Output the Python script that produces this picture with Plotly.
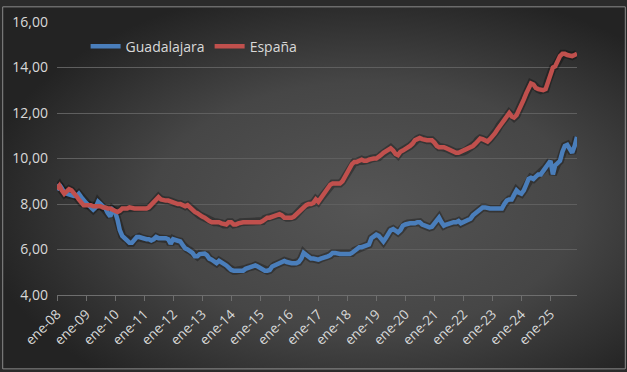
import base64
import pandas as pd
import plotly.graph_objects as go

# ---------------- data (monthly, ene-2008 .. dic-2025) ----------------
start_month = "2008-01-01"

guadalajara = [
    8.60, 8.85, 8.70, 8.50, 8.45, 8.40, 8.40, 8.35, 8.35, 8.45, 8.30, 8.15,   # 2008
    8.05, 7.95, 7.85, 7.75, 7.85, 8.10, 8.00, 7.90, 7.80, 7.60, 7.45, 7.75,   # 2009
    7.65, 7.30, 6.85, 6.60, 6.50, 6.45, 6.30, 6.30, 6.45, 6.55, 6.55, 6.50,   # 2010
    6.45, 6.45, 6.45, 6.40, 6.45, 6.55, 6.50, 6.50, 6.50, 6.50, 6.45, 6.25,   # 2011
    6.45, 6.40, 6.40, 6.35, 6.20, 6.05, 6.00, 5.95, 5.85, 5.70, 5.70, 5.80,   # 2012
    5.80, 5.82, 5.75, 5.60, 5.55, 5.45, 5.40, 5.50, 5.45, 5.40, 5.30, 5.20,   # 2013
    5.10, 5.07, 5.07, 5.07, 5.07, 5.07, 5.15, 5.20, 5.20, 5.25, 5.30, 5.25,   # 2014
    5.20, 5.10, 5.07, 5.07, 5.10, 5.25, 5.30, 5.35, 5.45, 5.45, 5.50, 5.45,   # 2015
    5.40, 5.40, 5.40, 5.40, 5.45, 5.60, 5.85, 5.75, 5.65, 5.60, 5.60, 5.55,   # 2016
    5.55, 5.60, 5.62, 5.65, 5.70, 5.75, 5.85, 5.85, 5.80, 5.80, 5.80, 5.80,   # 2017
    5.80, 5.80, 5.85, 5.95, 6.00, 6.10, 6.10, 6.15, 6.20, 6.22, 6.50, 6.60,   # 2018
    6.65, 6.60, 6.45, 6.35, 6.50, 6.70, 6.85, 6.90, 6.80, 6.75, 6.85, 7.05,   # 2019
    7.10, 7.15, 7.15, 7.15, 7.15, 7.20, 7.20, 7.10, 7.05, 7.00, 6.97, 7.00,   # 2020
    7.15, 7.30, 7.40, 7.20, 7.05, 7.10, 7.15, 7.15, 7.20, 7.20, 7.25, 7.15,   # 2021
    7.20, 7.25, 7.25, 7.35, 7.50, 7.60, 7.70, 7.80, 7.85, 7.85, 7.80, 7.80,   # 2022
    7.80, 7.80, 7.80, 7.80, 7.80, 8.00, 8.15, 8.20, 8.20, 8.40, 8.60, 8.50,   # 2023
    8.45, 8.60, 8.85, 9.10, 9.15, 9.10, 9.20, 9.30, 9.30, 9.50, 9.60, 9.75,   # 2024
    9.90, 9.30, 9.70, 9.80, 9.90, 10.30, 10.55, 10.60, 10.40, 10.25, 10.55, 10.95,  # 2025
]

espana = [
    8.65, 8.80, 8.60, 8.45, 8.55, 8.65, 8.60, 8.50, 8.35, 8.20, 8.05, 7.95,   # 2008
    7.95, 7.95, 7.95, 7.90, 7.90, 7.90, 7.90, 7.85, 7.85, 7.80, 7.80, 7.75,   # 2009
    7.70, 7.65, 7.70, 7.80, 7.80, 7.80, 7.85, 7.80, 7.80, 7.80, 7.80, 7.80,   # 2010
    7.80, 7.80, 7.85, 7.95, 8.10, 8.20, 8.30, 8.20, 8.15, 8.15, 8.15, 8.10,   # 2011
    8.05, 8.00, 8.00, 8.00, 7.95, 7.90, 7.95, 7.85, 7.70, 7.65, 7.60, 7.50,   # 2012
    7.45, 7.40, 7.30, 7.25, 7.20, 7.20, 7.20, 7.20, 7.15, 7.10, 7.10, 7.20,   # 2013
    7.20, 7.10, 7.10, 7.15, 7.20, 7.20, 7.20, 7.20, 7.20, 7.20, 7.20, 7.20,   # 2014
    7.20, 7.25, 7.35, 7.40, 7.40, 7.45, 7.50, 7.50, 7.55, 7.50, 7.40, 7.40,   # 2015
    7.40, 7.40, 7.45, 7.55, 7.70, 7.80, 7.90, 7.95, 8.00, 8.00, 8.05, 8.20,   # 2016
    8.10, 8.25, 8.40, 8.55, 8.70, 8.85, 8.90, 8.90, 8.90, 8.90, 9.00, 9.20,   # 2017
    9.40, 9.60, 9.75, 9.85, 9.85, 9.90, 9.95, 9.90, 9.90, 9.95, 10.00, 10.00, # 2018
    10.00, 10.05, 10.15, 10.25, 10.30, 10.40, 10.45, 10.35, 10.20, 10.15, 10.30, 10.35,  # 2019
    10.40, 10.50, 10.55, 10.65, 10.80, 10.85, 10.90, 10.85, 10.80, 10.80, 10.80, 10.80,  # 2020
    10.70, 10.55, 10.50, 10.50, 10.50, 10.45, 10.40, 10.30, 10.30, 10.25, 10.25, 10.30,  # 2021
    10.30, 10.35, 10.40, 10.50, 10.55, 10.65, 10.80, 10.88, 10.85, 10.80, 10.75, 10.85,  # 2022
    10.95, 11.10, 11.25, 11.45, 11.55, 11.70, 11.85, 12.00, 11.85, 11.80, 11.90, 12.10,  # 2023
    12.35, 12.60, 12.85, 13.10, 13.30, 13.25, 13.10, 13.05, 13.00, 13.00, 13.05, 13.40,  # 2024
    13.80, 14.00, 14.05, 14.30, 14.50, 14.60, 14.60, 14.55, 14.50, 14.50, 14.55, 14.60,  # 2025
]

tick_dates = [f"{y}-01-01" for y in range(2008, 2026)]
tick_labels = [f"ene-{y % 100:02d}" for y in range(2008, 2026)]
y_ticks = [4, 6, 8, 10, 12, 14, 16]

series_names = ["Guadalajara", "España"]
series_colors = ["#4A7EBB", "#C0504D"]

# ---------------- figure ----------------
dates = pd.date_range(start_month, periods=len(espana), freq="MS")

W, H = 627, 372
ML, MR, MT, MB = 55, 50, 16, 77
PW, PH = W - ML - MR, H - MT - MB

fig = go.Figure()

# soft shadows under the lines
for vals in (guadalajara, espana):
    fig.add_trace(go.Scatter(x=dates, y=vals, mode="lines",
                             line=dict(color="rgba(0,0,0,0.30)", width=8),
                             hoverinfo="skip", showlegend=False))

for name, vals, col in zip(series_names, (guadalajara, espana), series_colors):
    fig.add_trace(go.Scatter(x=dates, y=vals, mode="lines", name=name,
                             line=dict(color=col, width=4.5)))

# radial gradient background as svg image
svg = f'''<svg xmlns="http://www.w3.org/2000/svg" width="{W}" height="{H}" viewBox="0 0 {W} {H}">
<defs><radialGradient id="g" cx="0.58" cy="0.55" r="0.62" gradientUnits="objectBoundingBox">
<stop offset="0" stop-color="#555555"/><stop offset="0.55" stop-color="#464646"/>
<stop offset="1" stop-color="#232323"/></radialGradient></defs>
<rect width="{W}" height="{H}" fill="url(#g)"/></svg>'''
src = "data:image/svg+xml;base64," + base64.b64encode(svg.encode()).decode()

fig.add_layout_image(dict(source=src, xref="paper", yref="paper",
                          x=-ML / PW, y=1 + MT / PH, sizex=W / PW, sizey=H / PH,
                          xanchor="left", yanchor="top", sizing="stretch",
                          layer="below"))

# outer border
fig.add_shape(type="rect", xref="paper", yref="paper",
              x0=-(ML - 0.5) / PW, x1=1 + (MR - 1.5) / PW,
              y0=-(MB - 1.5) / PH, y1=1 + (MT - 0.5) / PH,
              line=dict(color="#8c8c8c", width=1), layer="below")

font_fam = "Open Sans, Liberation Sans, sans-serif"

fig.update_layout(
    width=W, height=H,
    margin=dict(l=ML, r=MR, t=MT, b=MB),
    paper_bgcolor="#2b2b2b", plot_bgcolor="rgba(0,0,0,0)",
    separators=",.",
    font=dict(family=font_fam, size=13, color="#D9D9D9"),
    showlegend=True,
    legend=dict(orientation="h", x=0.055, y=0.91, xanchor="left", yanchor="middle",
                bgcolor="rgba(0,0,0,0)", font=dict(size=14, color="#D9D9D9"),
                itemwidth=30, tracegroupgap=0),
    xaxis=dict(type="date", range=[dates[0], dates[-1]],
               tickvals=tick_dates, ticktext=tick_labels, tickangle=-45,
               showgrid=False, zeroline=False,
               showline=True, linecolor="#6e6e6e", linewidth=1,
               ticks="outside", ticklen=5, tickcolor="#6e6e6e",
               tickfont=dict(size=13.5, color="#D9D9D9")),
    yaxis=dict(range=[4, 16], tickvals=y_ticks, tickformat=".2f",
               showgrid=True, gridcolor="#5f5f5f", gridwidth=1,
               zeroline=False, showline=False, ticks="",
               ticklabelstandoff=8,
               tickfont=dict(size=14, color="#D9D9D9")),
)

fig.write_html("out.html", config={"displayModeBar": False},
               post_script="document.body.style.margin='0';document.body.style.overflow='hidden';")
